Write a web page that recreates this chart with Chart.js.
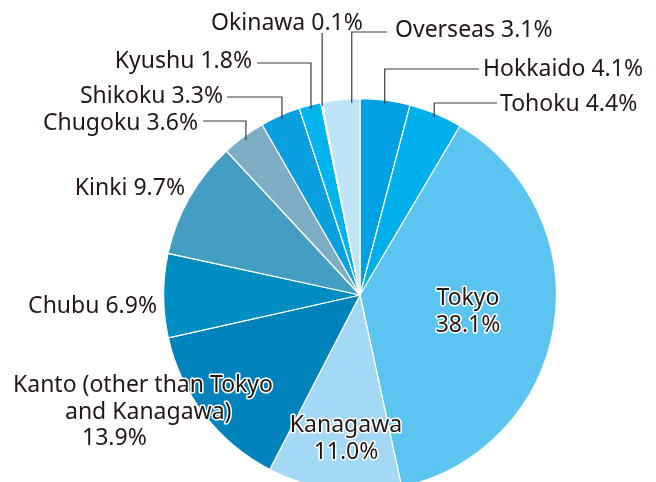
<!DOCTYPE html>
<html>
<head>
<meta charset="utf-8">
<script src="https://cdn.jsdelivr.net/npm/chart.js@4/dist/chart.umd.min.js"></script>
<style>
  html, body { margin: 0; padding: 0; background: #fff; }
  #wrap { width: 656px; height: 482px; overflow: hidden; position: relative; }
  #box { width: 656px; height: 500px; }
</style>
</head>
<body>
<div id="wrap"><div id="box"><canvas id="regionPie"></canvas></div></div>
<script>
// data
const categories = ["Hokkaido", "Tohoku", "Tokyo", "Kanagawa", "Kanto (other than Tokyo and Kanagawa)",
  "Chubu", "Kinki", "Chugoku", "Shikoku", "Kyushu", "Okinawa", "Overseas"];
const shares = [4.1, 4.4, 38.1, 11.0, 13.9, 6.9, 9.7, 3.6, 3.3, 1.8, 0.1, 3.1];
const shareLabels = ["4.1%", "4.4%", "38.1%", "11.0%", "13.9%", "6.9%", "9.7%", "3.6%", "3.3%", "1.8%", "0.1%", "3.1%"];

const sliceColors = [
  "#00a0e4", "#00b0ec", "#5bc4f1", "#a3d9f5", "#0082bd", "#008dc2",
  "#449dc3", "#7eadc6", "#0a9fdf", "#00b5ee", "#00a6e6", "#bfe4f8"
];

// label placement (text positions, leader elbows)
const labelLayout = [
  { lines: ["Hokkaido 4.1%"], x: 483, y: 76, align: "left", elbowY: 69, endX: 479 },
  { lines: ["Tohoku 4.4%"], x: 500, y: 111, align: "left", elbowY: 103, endX: 497 },
  { lines: ["Tokyo", "38.1%"], x: 468, y: 305, align: "center", halo: true },
  { lines: ["Kanagawa", "11.0%"], x: 346, y: 432, align: "center", halo: true },
  { lines: ["Kanto (other than Tokyo", "and Kanagawa)", "13.9%"], xs: [13, 65, 82], y: 392, align: "left", halo: true },
  { lines: ["Chubu 6.9%"], x: 157, y: 313, align: "right" },
  { lines: ["Kinki 9.7%"], x: 185, y: 195, align: "right" },
  { lines: ["Chugoku 3.6%"], x: 198, y: 130, align: "right", elbowY: 121, endX: 203 },
  { lines: ["Shikoku 3.3%"], x: 223, y: 103, align: "right", elbowY: 97, endX: 227 },
  { lines: ["Kyushu 1.8%"], x: 252, y: 68, align: "right", elbowY: 63, endX: 257 },
  { lines: ["Okinawa 0.1%"], x: 211, y: 30, align: "left", elbowY: 33, endX: null },
  { lines: ["Overseas 3.1%"], x: 395, y: 37, align: "left", elbowY: 32, endX: 387, frac: 0.78 }
];

const FONT = "23px 'Noto Sans', sans-serif";
const LINE_H = 26.5;
const TEXT_COLOR = "#231815";

const pieLabels = {
  id: "pieLabels",
  afterDraw(chart) {
    const ctx = chart.ctx;
    const arcs = chart.getDatasetMeta(0).data;
    ctx.save();

    // leader lines
    ctx.strokeStyle = "#3c3c3c";
    ctx.lineWidth = 1.2;
    labelLayout.forEach((lab, i) => {
      if (lab.elbowY === undefined) return;
      const arc = arcs[i];
      const f = lab.frac === undefined ? 0.5 : lab.frac;
      const a = arc.startAngle + (arc.endAngle - arc.startAngle) * f;
      const r = arc.outerRadius - 4;
      const px = arc.x + Math.cos(a) * r;
      const py = arc.y + Math.sin(a) * r;
      ctx.beginPath();
      ctx.moveTo(px, py);
      ctx.lineTo(px, lab.elbowY);
      if (lab.endX !== null) ctx.lineTo(lab.endX, lab.elbowY);
      ctx.stroke();
    });

    // texts
    ctx.font = FONT;
    ctx.textBaseline = "alphabetic";
    labelLayout.forEach(lab => {
      ctx.textAlign = lab.align;
      lab.lines.forEach((t, k) => {
        const x = lab.xs ? lab.xs[k] : lab.x;
        const y = lab.y + k * LINE_H;
        if (lab.halo) {
          ctx.strokeStyle = "#ffffff";
          ctx.lineWidth = 3;
          ctx.lineJoin = "round";
          ctx.strokeText(t, x, y);
        }
        ctx.fillStyle = TEXT_COLOR;
        ctx.fillText(t, x, y);
      });
    });
    ctx.restore();
  }
};

new Chart(document.getElementById("regionPie"), {
  type: "pie",
  data: {
    labels: categories,
    datasets: [{
      data: shares,
      backgroundColor: sliceColors,
      borderColor: "#ffffff",
      borderWidth: 1.2,
      hoverOffset: 0
    }]
  },
  options: {
    responsive: true,
    maintainAspectRatio: false,
    animation: false,
    layout: { padding: { left: 163, top: 98, right: 99, bottom: 8 } },
    plugins: {
      legend: { display: false },
      tooltip: { enabled: false }
    }
  },
  plugins: [pieLabels]
});
</script>
</body>
</html>
